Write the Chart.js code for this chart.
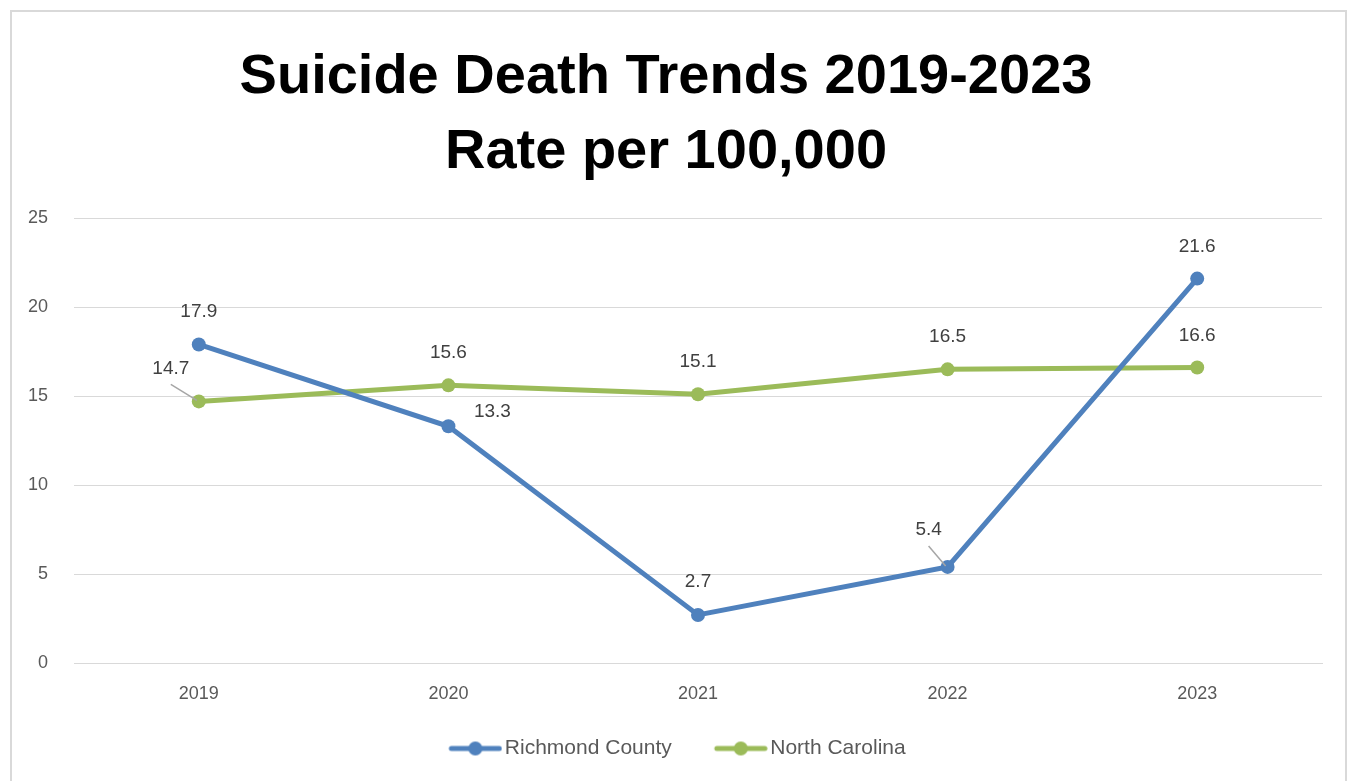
<!DOCTYPE html>
<html>
<head>
<meta charset="utf-8">
<script src="https://cdn.jsdelivr.net/npm/chart.js@4"></script>
<style>
    body { margin: 0; background: #fff; }
    #wrap { position: relative; width: 1351px; height: 781px; overflow: hidden; }
    #frame { position: absolute; left: 10px; top: 10px; width: 1337px; height: 790px; border: 2px solid #d9d9d9; box-sizing: border-box; pointer-events: none; }
    #chart { position: absolute; left: 0; top: 0; }
</style>
</head>
<body>
<div id="wrap">
    <canvas id="chart" width="1351" height="781"></canvas>
    <div id="frame"></div>
</div>
<script>
var years = ['2019', '2020', '2021', '2022', '2023'];
var richmondCounty = [17.9, 13.3, 2.7, 5.4, 21.6];
var northCarolina = [14.7, 15.6, 15.1, 16.5, 16.6];
var yTicks = [0, 5, 10, 15, 20, 25];

// label offsets per point (dx, dy, leader line)
var labelPos = [
    [{ dx: 0, dy: -33 }, { dx: 44, dy: -15 }, { dx: 0, dy: -33 }, { dx: -19, dy: -37, leader: true }, { dx: 0, dy: -32 }],
    [{ dx: -28, dy: -33, leader: true }, { dx: 0, dy: -33 }, { dx: 0, dy: -33 }, { dx: 0, dy: -33 }, { dx: 0, dy: -32 }]
];

// legend marker: line + dot, with empty space on the left to spread the items
function legendIcon(color) {
    var c = document.createElement('canvas');
    c.width = 84; c.height = 16;
    var g = c.getContext('2d');
    g.strokeStyle = color;
    g.lineWidth = 5;
    g.lineCap = 'round';
    g.beginPath(); g.moveTo(33, 8); g.lineTo(81, 8); g.stroke();
    g.fillStyle = color;
    g.beginPath(); g.arc(57, 8, 7, 0, Math.PI * 2); g.fill();
    return c;
}

var dataLabels = {
    id: 'dataLabels',
    afterDatasetsDraw: function (chart) {
        var ctx = chart.ctx;
        ctx.save();
        ctx.font = '19px "Liberation Sans", Arial, sans-serif';
        ctx.fillStyle = '#404040';
        ctx.textAlign = 'center';
        ctx.textBaseline = 'middle';
        chart.data.datasets.forEach(function (ds, i) {
            chart.getDatasetMeta(i).data.forEach(function (pt, j) {
                var p = labelPos[i][j];
                var lx = pt.x + p.dx, ly = pt.y + p.dy;
                if (p.leader) {
                    ctx.strokeStyle = '#a6a6a6';
                    ctx.lineWidth = 1.5;
                    ctx.beginPath();
                    ctx.moveTo(lx, ly + 16);
                    ctx.lineTo(pt.x - 2, pt.y - 1);
                    ctx.stroke();
                }
                ctx.fillText(ds.data[j].toFixed(1), lx, ly);
            });
        });
        ctx.restore();
    }
};

var blue = '#4f81bd';
var green = '#9bbb59';

new Chart(document.getElementById('chart'), {
    type: 'line',
    data: {
        labels: years,
        datasets: [
            {
                label: 'Richmond County',
                data: richmondCounty,
                borderColor: blue,
                backgroundColor: blue,
                borderWidth: 5,
                pointRadius: 7,
                pointHoverRadius: 7,
                pointBorderWidth: 0,
                pointStyle: 'circle',
                tension: 0
            },
            {
                label: 'North Carolina',
                data: northCarolina,
                borderColor: green,
                backgroundColor: green,
                borderWidth: 5,
                pointRadius: 7,
                pointHoverRadius: 7,
                pointBorderWidth: 0,
                pointStyle: 'circle',
                tension: 0
            }
        ]
    },
    options: {
        responsive: false,
        animation: false,
        layout: { padding: { left: 10, right: 29, top: 0, bottom: 12 } },
        plugins: {
            title: {
                display: true,
                text: ['Suicide Death Trends 2019-2023', 'Rate per 100,000'],
                color: '#000',
                font: { family: '"Liberation Sans", Arial, sans-serif', size: 56, weight: 'bold', lineHeight: 1.34 },
                padding: { top: 40, bottom: 28 }
            },
            legend: {
                position: 'bottom',
                labels: {
                    color: '#595959',
                    font: { family: '"Liberation Sans", Arial, sans-serif', size: 21 },
                    usePointStyle: true,
                    pointStyleWidth: 68,
                    boxHeight: 16,
                    padding: 20,
                    generateLabels: function (chart) {
                        return chart.data.datasets.map(function (ds, i) {
                            return {
                                text: ds.label,
                                pointStyle: legendIcon(ds.borderColor),
                                fillStyle: ds.borderColor,
                                strokeStyle: ds.borderColor,
                                lineWidth: 0,
                                fontColor: '#595959',
                                datasetIndex: i
                            };
                        });
                    }
                }
            },
            tooltip: { enabled: false }
        },
        scales: {
            x: {
                offset: true,
                afterFit: function (scale) { scale.height = 55; },
                grid: { display: false, drawTicks: false },
                border: { display: true, color: '#d9d9d9', width: 1 },
                ticks: { color: '#595959', font: { family: '"Liberation Sans", Arial, sans-serif', size: 18 }, padding: 20 }
            },
            y: {
                min: 0,
                max: 25,
                afterBuildTicks: function (scale) {
                    scale.ticks = yTicks.map(function (v) { return { value: v }; });
                },
                afterFit: function (scale) { scale.width = 64; },
                grid: { color: '#d9d9d9', lineWidth: 1, drawTicks: false },
                border: { display: false },
                ticks: { color: '#595959', font: { family: '"Liberation Sans", Arial, sans-serif', size: 18 }, padding: 26 }
            }
        }
    },
    plugins: [dataLabels]
});
</script>
</body>
</html>
